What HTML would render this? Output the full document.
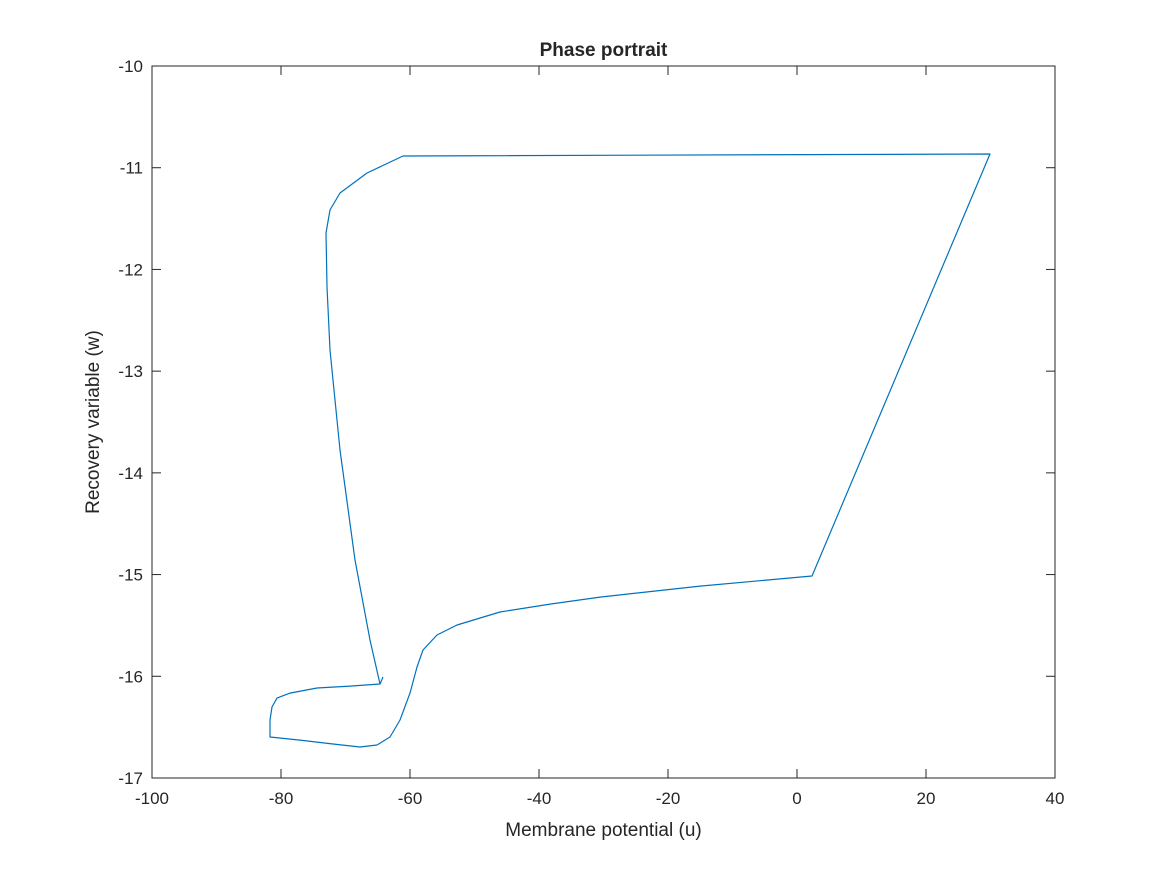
<!DOCTYPE html>
<html><head><meta charset="utf-8"><style>
html,body{margin:0;padding:0;background:#fff;}
svg text{font-family:"Liberation Sans",Arial,sans-serif;fill:#262626;}
</style></head><body>
<svg id="chart" width="1167" height="875" xmlns="http://www.w3.org/2000/svg"></svg>
<script>
const uValues=[-64.19,-64.4,-64.65,-69.30,-74.42,-78.60,-80.62,-81.40,-81.71,-81.71,-77.05,-71.94,-67.75,-65.12,-63.10,-61.55,-60.00,-58.91,-57.98,-55.81,-52.71,-46.05,-38.29,-30.54,-15.04,2.33,29.92,-61.09,-66.67,-70.85,-72.40,-73.02,-72.87,-72.40,-70.85,-68.53,-66.20,-64.65];
const wValues=[-16.007,-16.04,-16.076,-16.096,-16.115,-16.165,-16.214,-16.302,-16.430,-16.597,-16.627,-16.666,-16.695,-16.676,-16.597,-16.430,-16.165,-15.909,-15.742,-15.594,-15.496,-15.368,-15.290,-15.221,-15.113,-15.014,-10.865,-10.885,-11.052,-11.249,-11.416,-11.642,-12.173,-12.792,-13.775,-14.857,-15.643,-16.076];
const xTicks=[-100,-80,-60,-40,-20,0,20,40];
const yTicks=[-17,-16,-15,-14,-13,-12,-11,-10];
const L=152,R=1055,T=66,B=778;
const xMin=-100,xMax=40,yMin=-17,yMax=-10;
const sx=v=>L+(v-xMin)/(xMax-xMin)*(R-L);
const sy=v=>B-(v-yMin)/(yMax-yMin)*(B-T);
const svg=document.getElementById('chart');
const NS='http://www.w3.org/2000/svg';
function mk(tag,attrs){const e=document.createElementNS(NS,tag);for(const k in attrs)e.setAttribute(k,attrs[k]);svg.appendChild(e);return e;}
let box=mk('rect',{x:L,y:T,width:R-L,height:B-T,fill:'#fff',stroke:'#262626','stroke-width':1});


xTicks.forEach(t=>{const x=sx(t);
 let a=mk('line',{x1:x,y1:B,x2:x,y2:B-9,stroke:'#262626'});
 
 
 let b=mk('line',{x1:x,y1:T,x2:x,y2:T+9,stroke:'#262626'});
 
 
 let tx=mk('text',{x:x,y:B+26,'text-anchor':'middle','font-size':17});tx.textContent=t;
 
 
});
yTicks.forEach(t=>{const y=sy(t);
 let a=mk('line',{x1:L,y1:y,x2:L+9,y2:y,stroke:'#262626'});
 
 
 let b=mk('line',{x1:R,y1:y,x2:R-9,y2:y,stroke:'#262626'});
 
 
 let tx=mk('text',{x:L-9,y:y+6,'text-anchor':'end','font-size':17});tx.textContent=t;
 
 
});
let d=uValues.map((u,i)=>(i?'L':'M')+sx(u).toFixed(1)+','+sy(wValues[i]).toFixed(1)).join(' ');
let p=mk('path',{d:d,fill:'none',stroke:'#0072BD','stroke-width':1.2,'stroke-linejoin':'round'});


let ti=mk('text',{x:(L+R)/2,y:56,'text-anchor':'middle','font-size':19,'font-weight':'bold'});ti.textContent='Phase portrait';


let xl=mk('text',{x:(L+R)/2,y:836,'text-anchor':'middle','font-size':19});xl.textContent='Membrane potential (u)';


let yl=mk('text',{x:0,y:0,'text-anchor':'middle','font-size':19,transform:'translate(99,422) rotate(-90)'});yl.textContent='Recovery variable (w)';


</script>
</body></html>
